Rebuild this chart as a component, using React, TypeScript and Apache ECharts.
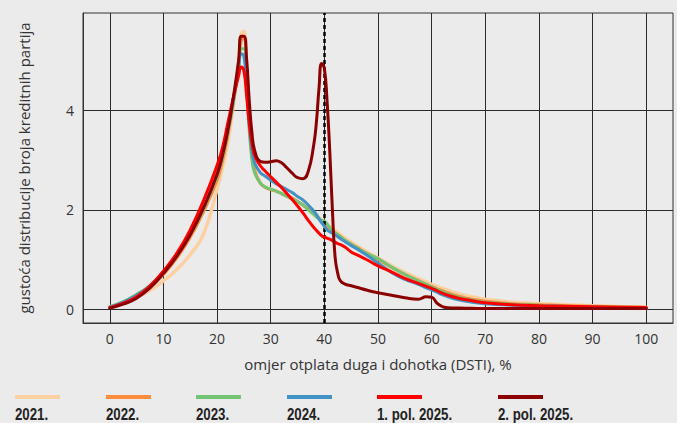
import React, { useEffect, useRef } from "react";
import * as echarts from "echarts";

// DSTI (%) sample points shared by all curves
const X = [0, 2.5, 5, 7.5, 10, 12.5, 15, 17.5, 20, 21, 22, 23, 24, 24.5, 25, 25.5, 26, 26.5, 27, 28, 29, 30, 31, 32, 33, 34, 35, 36, 37, 38, 38.5, 39, 39.5, 40, 40.5, 41, 41.5, 42, 42.5, 43, 44, 45, 46, 48, 50, 52.5, 55, 57.5, 59, 60, 61, 62, 63, 65, 67.5, 70, 75, 80, 85, 90, 95, 100];

const Y2021 = [0.05, 0.12, 0.24, 0.38, 0.57, 0.8, 1.1, 1.52, 2.42, 2.85, 3.35, 4.1, 5.0, 5.55, 5.6, 4.85, 3.85, 3.15, 2.8, 2.55, 2.46, 2.42, 2.38, 2.34, 2.29, 2.24, 2.17, 2.1, 2.02, 1.94, 1.89, 1.84, 1.79, 1.74, 1.7, 1.66, 1.62, 1.58, 1.54, 1.5, 1.42, 1.35, 1.28, 1.15, 1.03, 0.88, 0.74, 0.62, 0.55, 0.5, 0.46, 0.42, 0.38, 0.31, 0.25, 0.2, 0.14, 0.11, 0.09, 0.07, 0.05, 0.04];
const Y2022 = [0.04, 0.13, 0.27, 0.45, 0.7, 1.03, 1.45, 1.97, 2.6, 2.98, 3.5, 4.15, 4.95, 5.4, 5.45, 4.75, 3.75, 3.1, 2.8, 2.55, 2.45, 2.41, 2.38, 2.33, 2.28, 2.24, 2.17, 2.1, 2.02, 1.94, 1.89, 1.83, 1.77, 1.71, 1.66, 1.62, 1.58, 1.54, 1.5, 1.46, 1.38, 1.31, 1.25, 1.12, 1.0, 0.84, 0.7, 0.58, 0.5, 0.46, 0.41, 0.37, 0.33, 0.26, 0.2, 0.16, 0.11, 0.09, 0.07, 0.06, 0.05, 0.04];
const Y2023 = [0.05, 0.15, 0.3, 0.48, 0.74, 1.08, 1.5, 2.02, 2.68, 3.05, 3.55, 4.15, 4.85, 5.25, 5.25, 4.55, 3.6, 3.0, 2.75, 2.55, 2.46, 2.42, 2.38, 2.33, 2.27, 2.22, 2.17, 2.1, 2.0, 1.91, 1.86, 1.82, 1.79, 1.77, 1.72, 1.64, 1.58, 1.54, 1.5, 1.46, 1.38, 1.31, 1.24, 1.12, 1.02, 0.85, 0.7, 0.57, 0.5, 0.45, 0.4, 0.35, 0.31, 0.24, 0.18, 0.14, 0.1, 0.08, 0.06, 0.05, 0.04, 0.03];
const Y2024 = [0.04, 0.14, 0.28, 0.47, 0.74, 1.1, 1.52, 2.05, 2.72, 3.1, 3.6, 4.2, 4.85, 5.15, 5.1, 4.5, 3.7, 3.2, 2.95, 2.76, 2.68, 2.6, 2.53, 2.47, 2.41, 2.35, 2.27, 2.2, 2.1, 1.98, 1.91, 1.82, 1.74, 1.67, 1.6, 1.56, 1.53, 1.5, 1.46, 1.42, 1.35, 1.28, 1.22, 1.08, 0.93, 0.74, 0.6, 0.5, 0.43, 0.39, 0.34, 0.29, 0.25, 0.19, 0.14, 0.11, 0.08, 0.06, 0.05, 0.04, 0.03, 0.02];
const Y2025H1 = [0.03, 0.12, 0.25, 0.47, 0.77, 1.13, 1.6, 2.2, 2.9, 3.25, 3.75, 4.25, 4.7, 4.88, 4.8, 4.3, 3.75, 3.35, 3.1, 2.9, 2.78, 2.67, 2.56, 2.45, 2.33, 2.21, 2.08, 1.94, 1.79, 1.65, 1.59, 1.53, 1.48, 1.45, 1.43, 1.41, 1.38, 1.35, 1.32, 1.3, 1.24, 1.15, 1.1, 0.99, 0.87, 0.75, 0.62, 0.52, 0.46, 0.42, 0.37, 0.32, 0.28, 0.22, 0.17, 0.13, 0.09, 0.07, 0.06, 0.05, 0.04, 0.03];
const Y2025H2 = [0.02, 0.1, 0.22, 0.43, 0.72, 1.07, 1.5, 2.05, 2.72, 3.1, 3.6, 4.25, 5.0, 5.5, 5.5, 5.05, 4.2, 3.55, 3.2, 2.98, 2.96, 2.97, 2.99, 2.95, 2.85, 2.74, 2.65, 2.63, 2.78, 3.3, 3.75, 4.45, 4.95, 4.85, 4.2, 3.2, 2.0, 1.05, 0.72, 0.57, 0.5, 0.47, 0.44, 0.38, 0.33, 0.28, 0.23, 0.2, 0.25, 0.24, 0.12, 0.05, 0.03, 0.02, 0.015, 0.01, 0.01, 0.01, 0.01, 0.01, 0.01, 0.01];

const SERIES_NAMES = ["2021.", "2022.", "2023.", "2024.", "1. pol. 2025.", "2. pol. 2025."];
const SERIES_VALUES = [Y2021, Y2022, Y2023, Y2024, Y2025H1, Y2025H2];
const COLORS = ["#fdd0a2", "#fd8d3c", "#74c476", "#4292c6", "#ff0000", "#8b0000"];

const X_TICKS = [0, 10, 20, 30, 40, 50, 60, 70, 80, 90, 100];
const Y_TICKS = [0, 2, 4];
const DSTI_LIMIT = 40;

const X_NAME = "omjer otplata duga i dohotka (DSTI), %";
const Y_NAME = "gustoća distribucije broja kreditnih partija";

const LEGEND_X = [15, 106, 196, 287, 377, 498];

const AXIS_FONT = '"Open Sans", "Noto Sans", sans-serif';
const LEGEND_FONT = '"Liberation Sans", Arial, sans-serif';

export default function App() {
  const ref = useRef<HTMLDivElement>(null);

  useEffect(() => {
    document.body.style.margin = "0";
    const chart = echarts.init(ref.current!, null, { renderer: "svg" });

    const series: any[] = SERIES_NAMES.map((name, i) => ({
      name,
      type: "line",
      data: X.map((x, j) => [x, SERIES_VALUES[i][j]]),
      showSymbol: false,
      smooth: 0.5,
      z: 2 + i,
      lineStyle: { color: COLORS[i], width: i === 0 ? 3.5 : 3, cap: "round", join: "round" },
      itemStyle: { color: COLORS[i] },
    }));

    series.push({
      name: "limit",
      type: "line",
      data: [],
      z: 20,
      markLine: {
        silent: true,
        symbol: ["none", "none"],
        label: { show: false },
        lineStyle: { color: "#000", type: [4, 3], width: 2.5 },
        data: [{ xAxis: DSTI_LIMIT }],
      },
    });

    const graphic: any[] = [];
    SERIES_NAMES.forEach((name, i) => {
      graphic.push({
        type: "line",
        shape: { x1: LEGEND_X[i], y1: 397, x2: LEGEND_X[i] + 45, y2: 397 },
        style: { stroke: COLORS[i], lineWidth: 4 },
      });
      graphic.push({
        type: "text",
        x: LEGEND_X[i],
        y: 422,
        scaleX: 0.78,
        style: {
          text: name,
          fill: "#222",
          fontFamily: LEGEND_FONT,
          fontWeight: "bold",
          fontSize: 17,
          textAlign: "left",
          textVerticalAlign: "bottom",
        },
      });
    });

    chart.setOption({
      animation: false,
      backgroundColor: "#ebebeb",
      grid: {
        left: 83,
        top: 13,
        right: 4,
        bottom: 100,
        show: true,
        borderColor: "#333",
        borderWidth: 1,
        backgroundColor: "transparent",
      },
      xAxis: {
        type: "value",
        min: -5,
        max: 105,
        name: X_NAME,
        nameLocation: "middle",
        nameGap: 33,
        nameTextStyle: { fontFamily: AXIS_FONT, fontSize: 15, color: "#333" },
        axisLine: { show: true, onZero: false, lineStyle: { color: "#333" } },
        axisTick: { show: false, customValues: X_TICKS },
        axisLabel: { customValues: X_TICKS, fontFamily: AXIS_FONT, fontSize: 14, color: "#333", margin: 8 },
        splitLine: { show: true, lineStyle: { color: "#2a2a2a", width: 1 } },
      },
      yAxis: {
        type: "value",
        min: -0.28,
        max: 5.97,
        name: Y_NAME,
        nameLocation: "middle",
        nameGap: 52,
        nameTextStyle: { fontFamily: AXIS_FONT, fontSize: 15, color: "#333" },
        axisLine: { show: true, onZero: false, lineStyle: { color: "#333" } },
        axisTick: { show: false, customValues: Y_TICKS },
        axisLabel: { customValues: Y_TICKS, fontFamily: AXIS_FONT, fontSize: 14, color: "#333", margin: 9 },
        splitLine: { show: true, lineStyle: { color: "#2a2a2a", width: 1 } },
      },
      graphic,
      series,
    });

    return () => chart.dispose();
  }, []);

  return (
    <div
      ref={ref}
      style={{ position: "fixed", left: 0, top: 0, width: 677, height: 423, background: "#ebebeb" }}
    />
  );
}
